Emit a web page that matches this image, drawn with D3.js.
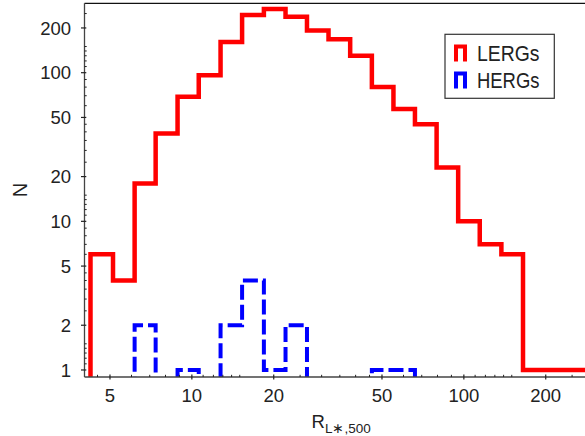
<!DOCTYPE html>
<html lang="en">
<head>
<meta charset="UTF-8">
<title>LERGs / HERGs histogram</title>
<script src="https://cdn.jsdelivr.net/npm/d3@7"></script>
<style>
    body { margin: 0; background: #fff; }
    svg { display: block; font-family: "Liberation Sans", Arial, sans-serif; }
    .tick-label { font-size: 18.5px; fill: #222; }
</style>
</head>
<body>
<div id="chart"></div>
<script>
// bin edges of the histogram (R_L*,500)
var binEdges = [4.24, 5.13, 6.16, 7.36, 8.86, 10.6, 12.75, 15.3, 18.4, 22.1, 26.5, 31.8,
                38.2, 45.9, 55.1, 66.1, 79.4, 95.3, 114.4, 137.4, 165, 199, 238, 286, 343];
var lergCounts = [6, 4, 18, 39, 69, 96, 161, 244, 268, 238, 192, 168, 130, 80, 57, 45,
                  23, 10, 7, 6, 1, 1, 1, 1];
var hergCounts = [0, 0, 2, 0, 1, 0, 2, 4, 1, 2, 0, 0, 0, 1, 1, 0,
                  0, 0, 0, 0, 0, 0, 0, 0];

var xTickLabels = [5, 10, 20, 50, 100, 200];
var yTickLabels = [1, 2, 5, 10, 20, 50, 100, 200];
var xMinorTicks = [4.5, 6, 7, 8, 9, 11, 12, 13, 14, 15, 25, 30, 35, 40, 45, 60, 70, 80, 90,
                   110, 120, 130, 140, 150, 250];
var yMinorTicks = [1.1, 1.2, 1.3, 1.4, 1.5, 2.5, 3, 3.5, 4, 4.5, 6, 7, 8, 9, 11, 12, 13, 14, 15,
                   25, 30, 35, 40, 45, 60, 70, 80, 90, 110, 120, 130, 140, 150, 250];

var W = 585, H = 436;
var plotLeft = 84.5, plotRight = 595, plotTop = 3.3, plotBottom = 377;

var svg = d3.select("#chart").append("svg")
    .attr("width", W).attr("height", H);

var x = d3.scaleLog().domain([4.03, 303.5]).range([plotLeft, plotRight]);
var y = d3.scaleLog().domain([0.897, 293]).range([plotBottom, plotTop]);

svg.append("clipPath").attr("id", "plotclip")
    .append("rect")
    .attr("x", plotLeft).attr("y", plotTop)
    .attr("width", plotRight - plotLeft).attr("height", plotBottom - plotTop);

// step outline; empty bins drop below the axis and get clipped
function stepPoints(counts) {
    var pts = [];
    var yv = function (c) { return c > 0 ? y(c) : y(0.3); };
    pts.push([x(binEdges[0]), y(0.3)]);
    counts.forEach(function (c, i) {
        pts.push([x(binEdges[i]), yv(c)]);
        pts.push([x(binEdges[i + 1]), yv(c)]);
    });
    pts.push([x(binEdges[counts.length]), y(0.3)]);
    return pts;
}

var line = d3.line();
var plot = svg.append("g").attr("clip-path", "url(#plotclip)");

plot.append("path")
    .attr("d", line(stepPoints(lergCounts)))
    .attr("fill", "none")
    .attr("stroke", "#ff0000")
    .attr("stroke-width", 4.5)
    .attr("stroke-linejoin", "miter");

plot.append("path")
    .attr("d", line(stepPoints(hergCounts)))
    .attr("fill", "none")
    .attr("stroke", "#0000ff")
    .attr("stroke-width", 4)
    .attr("stroke-dasharray", "15,5")
    .attr("stroke-linejoin", "miter");

// frame
svg.append("line")
    .attr("x1", plotLeft).attr("x2", plotRight).attr("y1", plotTop).attr("y2", plotTop)
    .attr("stroke", "#111").attr("stroke-width", 1.3);
svg.append("line")
    .attr("x1", plotLeft).attr("x2", plotLeft).attr("y1", plotTop).attr("y2", plotBottom)
    .attr("stroke", "#444").attr("stroke-width", 1.3);
svg.append("line")
    .attr("x1", plotLeft).attr("x2", plotRight).attr("y1", plotBottom).attr("y2", plotBottom)
    .attr("stroke", "#444").attr("stroke-width", 1.3);

// x ticks
var xt = svg.append("g");
xt.selectAll("line.major").data(xTickLabels).enter().append("line")
    .attr("x1", function (d) { return x(d); }).attr("x2", function (d) { return x(d); })
    .attr("y1", plotBottom - 2.5).attr("y2", plotBottom + 2.5)
    .attr("stroke", "#222").attr("stroke-width", 1.2);
xt.selectAll("line.minor").data(xMinorTicks).enter().append("line")
    .attr("x1", function (d) { return x(d); }).attr("x2", function (d) { return x(d); })
    .attr("y1", plotBottom - 2.2).attr("y2", plotBottom)
    .attr("stroke", "#222").attr("stroke-width", 1);
xt.selectAll("text").data(xTickLabels).enter().append("text")
    .attr("class", "tick-label")
    .attr("x", function (d) { return x(d); })
    .attr("y", 401.5)
    .attr("text-anchor", "middle")
    .text(function (d) { return d; });

// y ticks
var yt = svg.append("g");
yt.selectAll("line.major").data(yTickLabels).enter().append("line")
    .attr("y1", function (d) { return y(d); }).attr("y2", function (d) { return y(d); })
    .attr("x1", plotLeft - 3.5).attr("x2", plotLeft + 1.8)
    .attr("stroke", "#222").attr("stroke-width", 1.2);
yt.selectAll("line.minor").data(yMinorTicks).enter().append("line")
    .attr("y1", function (d) { return y(d); }).attr("y2", function (d) { return y(d); })
    .attr("x1", plotLeft).attr("x2", plotLeft + 2.2)
    .attr("stroke", "#222").attr("stroke-width", 1);
yt.selectAll("text").data(yTickLabels).enter().append("text")
    .attr("class", "tick-label")
    .attr("x", 71)
    .attr("y", function (d) { return y(d); })
    .attr("dy", "0.36em")
    .attr("text-anchor", "end")
    .text(function (d) { return d; });

// axis titles
svg.append("text")
    .attr("transform", "translate(26.5,190) rotate(-90)")
    .attr("text-anchor", "middle")
    .style("font-size", "20px").style("fill", "#222")
    .text("N");

var xl = svg.append("text")
    .attr("x", 311.5).attr("y", 427.7)
    .style("font-size", "18.5px").style("fill", "#222");
xl.append("tspan").text("R");
xl.append("tspan").attr("dy", 5.5).style("font-size", "13.5px").text("L\u2217,500");

// legend
var lg = svg.append("g");
lg.append("rect")
    .attr("x", 445).attr("y", 34.3).attr("width", 109.3).attr("height", 64)
    .attr("fill", "#fff").attr("stroke", "#333").attr("stroke-width", 1.2);
var legendItems = [["LERGs", "#ff0000", 61], ["HERGs", "#0000ff", 88]];
legendItems.forEach(function (it) {
    lg.append("path")
        .attr("d", "M456," + (it[2] + 0.5) + "V" + (it[2] - 14.5) + "H465V" + (it[2] + 0.5))
        .attr("fill", "none").attr("stroke", it[1]).attr("stroke-width", 4);
    lg.append("text")
        .attr("x", 477).attr("y", it[2])
        .attr("textLength", 62.5).attr("lengthAdjust", "spacingAndGlyphs")
        .style("font-size", "21.5px").style("fill", "#222")
        .text(it[0]);
});
</script>
</body>
</html>
